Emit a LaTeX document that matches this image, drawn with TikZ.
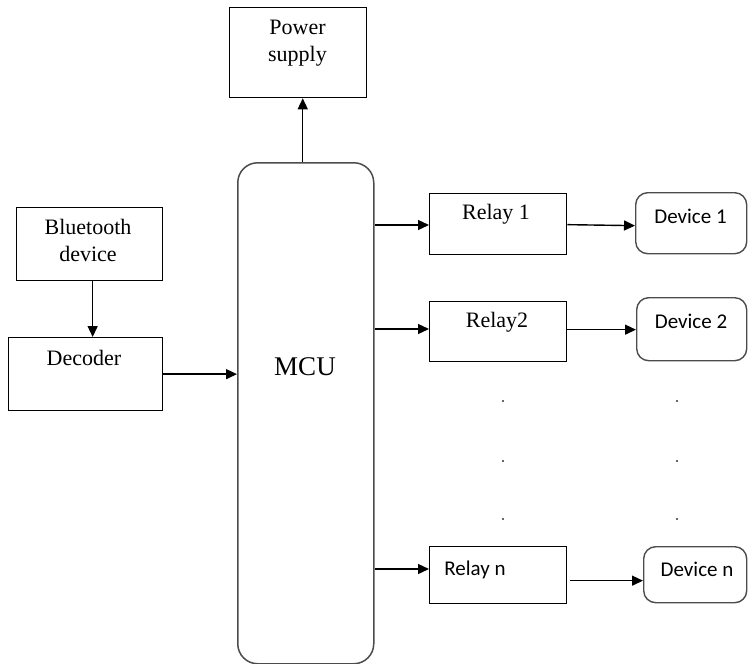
\documentclass[tikz,border=0pt]{standalone}
\usepackage{fontspec}
\setmainfont{Liberation Serif}
\newfontfamily\calfont{Carlito}
\usetikzlibrary{arrows.meta}
\begin{document}
\begin{tikzpicture}[x=1pt,y=-1pt,
  box/.style={draw=black, line width=1.3pt, rectangle, inner sep=0pt, anchor=north west},
  rbox/.style={draw=black!70, line width=1.4pt, rectangle, rounded corners=12pt, inner sep=0pt, anchor=north west},
  arr/.style={line width=1.4pt, -{Triangle[length=11pt,width=10pt]}},
  serif/.style={font=\fontsize{22}{27}\selectfont, inner sep=0pt, align=center},
  sans/.style={font=\calfont\fontsize{21}{25}\selectfont, inner sep=0pt},
  dot/.style={circle, fill=black!80, inner sep=0pt, minimum size=2.4pt}]
\useasboundingbox (0,0) rectangle (748,664);
% boxes
\node[box, minimum width=137pt, minimum height=90pt] (ps) at (229,7) {};
\node[draw=black!70, line width=1.5pt, rectangle, rounded corners=20pt, inner sep=0pt, anchor=north west,
      minimum width=136pt, minimum height=501pt] (mcu) at (237,162) {};
\node[box, minimum width=146pt, minimum height=73pt] (bt) at (16,207) {};
\node[box, minimum width=154pt, minimum height=73pt] (dec) at (8,337) {};
\node[box, minimum width=137pt, minimum height=61pt] (r1) at (429,193) {};
\node[box, minimum width=137pt, minimum height=60pt] (r2) at (429,301) {};
\node[box, minimum width=137pt, minimum height=57pt] (rn) at (429,546) {};
\node[rbox, minimum width=111pt, minimum height=61pt] (d1) at (635,192) {};
\node[rbox, minimum width=110pt, minimum height=63pt] (d2) at (636,297) {};
\node[rbox, minimum width=103pt, minimum height=56pt] (dn) at (643,546) {};
% texts
\node[serif] (tps) at (297.5,43.5) {Power\\supply};
\node[serif] (tbt) at (88,240.5) {Bluetooth\\device};
\node[serif, anchor=base] (tdec) at (84,365) {Decoder};
\node[font=\fontsize{27}{32}\selectfont, inner sep=0pt, anchor=base] (tmcu) at (305,375) {MCU};
\node[serif, anchor=base] (tr1) at (496,219) {Relay 1};
\node[serif, anchor=base] (tr2) at (497,327) {Relay2};
\node[sans, anchor=base] (trn) at (475,575) {Relay n};
\node[sans, anchor=base] (td1) at (690.5,223) {Device 1};
\node[sans, anchor=base] (td2) at (691,328) {Device 2};
\node[sans, anchor=base] (tdn) at (697,576) {Device n};
% dots
\foreach \yy [count=\i] in {401,461,519}{
  \node[dot] (dl\i) at (503,\yy) {};
  \node[dot] (dr\i) at (677,\yy) {};
}
% connectors
\coordinate (mcutop) at ([xshift=-3pt]mcu.north);
\draw[arr] (mcutop) -- (mcutop |- ps.south);
\draw[arr] ([xshift=3pt]bt.south) -- ([xshift=3pt]bt.south |- dec.north);
\draw[arr] (dec.east) -- (dec.east -| mcu.west);
\draw[arr] (mcu.east |- 0,225) coordinate (m1) -- (m1 -| r1.west);
\draw[arr] (mcu.east |- 0,329) coordinate (m2) -- (m2 -| r2.west);
\draw[arr] (mcu.east |- 0,569) coordinate (m3) -- (m3 -| rn.west);
\draw[arr] ([yshift=-0.5pt]r1.east) -- ([yshift=-1.5pt]r1.east -| d1.west);
\draw[arr] ([yshift=2pt]r2.east) -- ([yshift=2pt]r2.east -| d2.west);
\draw[arr] ([xshift=3pt,yshift=-5.5pt]rn.east) -- ([yshift=-5.5pt]rn.east -| dn.west);
\end{tikzpicture}
\end{document}
